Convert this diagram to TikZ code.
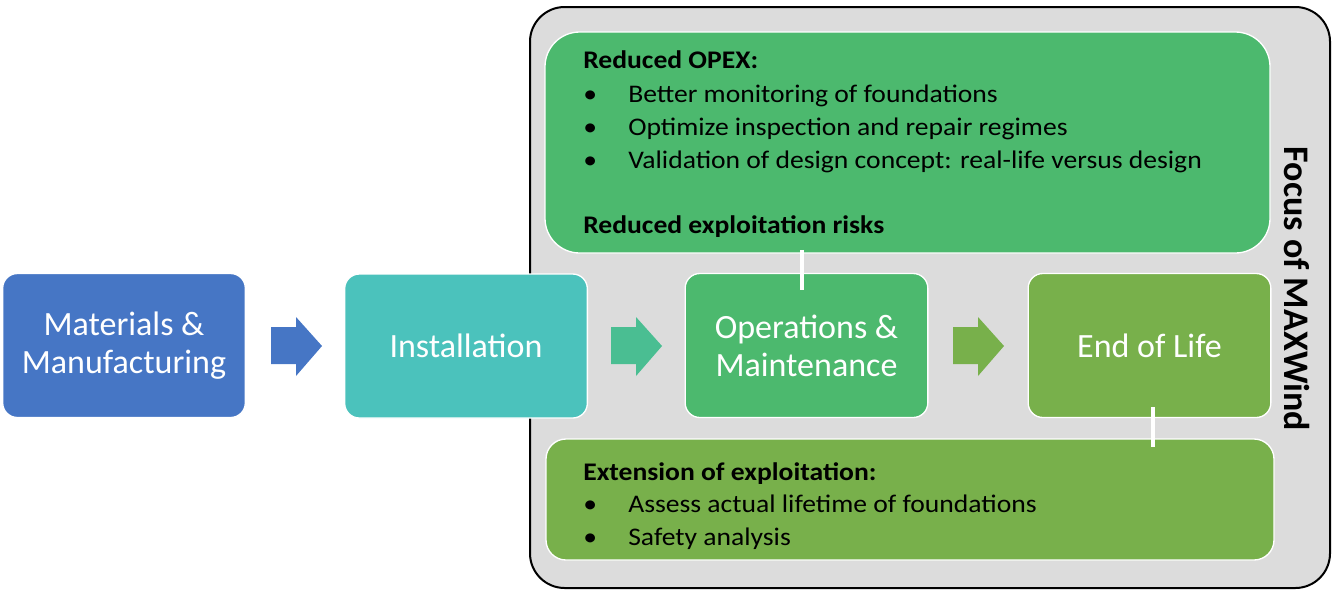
\documentclass[tikz,border=0pt]{standalone}
\usepackage{fontspec}
\setmainfont{Carlito}
\newfontfamily\panelfont{Carlito}[FakeStretch=1.09]
\usepackage{xcolor}
\usetikzlibrary{calc, positioning}
\definecolor{mmblue}{RGB}{70,118,197}
\definecolor{insteal}{RGB}{75,194,188}
\definecolor{omgreen}{RGB}{76,185,110}
\definecolor{eolgreen}{RGB}{120,176,75}
\definecolor{arrteal}{RGB}{74,190,146}
\definecolor{focusgray}{RGB}{220,220,220}

\begin{document}
\begin{tikzpicture}[x=0.75pt, y=-0.75pt,
  stage/.style={draw=white, line width=1pt, rounded corners=11pt, minimum width=182pt, minimum height=108pt, inner sep=0pt, text=white, align=center, font=\fontsize{25.5}{28.5}\selectfont},
  panel/.style={draw=white, line width=1pt, inner sep=0pt},
  item/.style={anchor=base west, inner sep=0pt, font=\panelfont\fontsize{19}{22}\selectfont},
  head/.style={item, font=\panelfont\bfseries\fontsize{19}{22}\selectfont},
  link/.style={white, line width=3pt}]
\useasboundingbox (0,0) rectangle (1334,593);
\node[draw=black, line width=1.5pt, fill=focusgray, rounded corners=26pt, minimum width=600pt, minimum height=435.75pt, inner sep=0pt] (focus) at (930,297.5) {};
\node[panel, fill=omgreen, rounded corners=26pt, minimum width=543.75pt, minimum height=165.75pt] (opex) at (907.5,142.5) {};
\node[panel, fill=eolgreen, rounded corners=15pt, minimum width=546pt, minimum height=90.75pt] (ext) at (910,499.5) {};
\node[stage, fill=mmblue] (mm) at (124,345.5) {Materials \&\\Manufacturing};
\node[stage, fill=insteal] (inst) at (466,346) {Installation};
\node[stage, fill=omgreen] (om) at (806.5,345.5) {Operations \&\\Maintenance};
\node[stage, fill=eolgreen] (eol) at (1149.5,345.5) {End of Life};
\foreach \x/\c in {271/mmblue, 611/arrteal, 953/eolgreen}
  \fill[\c] (\x,327) -- ++(25,0) -- ++(0,-10) -- ++(26,29) -- ++(-26,30) -- ++(0,-12) -- ++(-25,0) -- cycle;
\draw[link] ($(om.north)+(-5,-23)$) -- ($(om.north)+(-5,17)$);
\draw[link] ($(eol.south)+(3,-11)$) -- ($(ext.north -| eol.south)+(3,9)$);
\node[head] (opexhead) at (583,68) {Reduced OPEX:};
\foreach \y/\t [count=\i] in {102/Better monitoring of foundations, 135/Optimize inspection and repair regimes, 168/Validation of design concept: real-life versus design} {
  \node[item] (dot\i) at (583,\y) {\textbullet};
  \node[item] (opex\i) at (628,\y) {\t};
}
\node[head] (risks) at (583,233) {Reduced exploitation risks};
\node[head] (exthead) at (583,480) {Extension of exploitation:};
\foreach \y/\t [count=\i] in {512/Assess actual lifetime of foundations, 545/Safety analysis} {
  \node[item] (edot\i) at (583,\y) {\textbullet};
  \node[item] (ext\i) at (628,\y) {\t};
}
\node[rotate=-90, font=\bfseries\fontsize{27}{30}\selectfont] (title) at (1297,289) {Focus of MAXWind};
\end{tikzpicture}
\end{document}
